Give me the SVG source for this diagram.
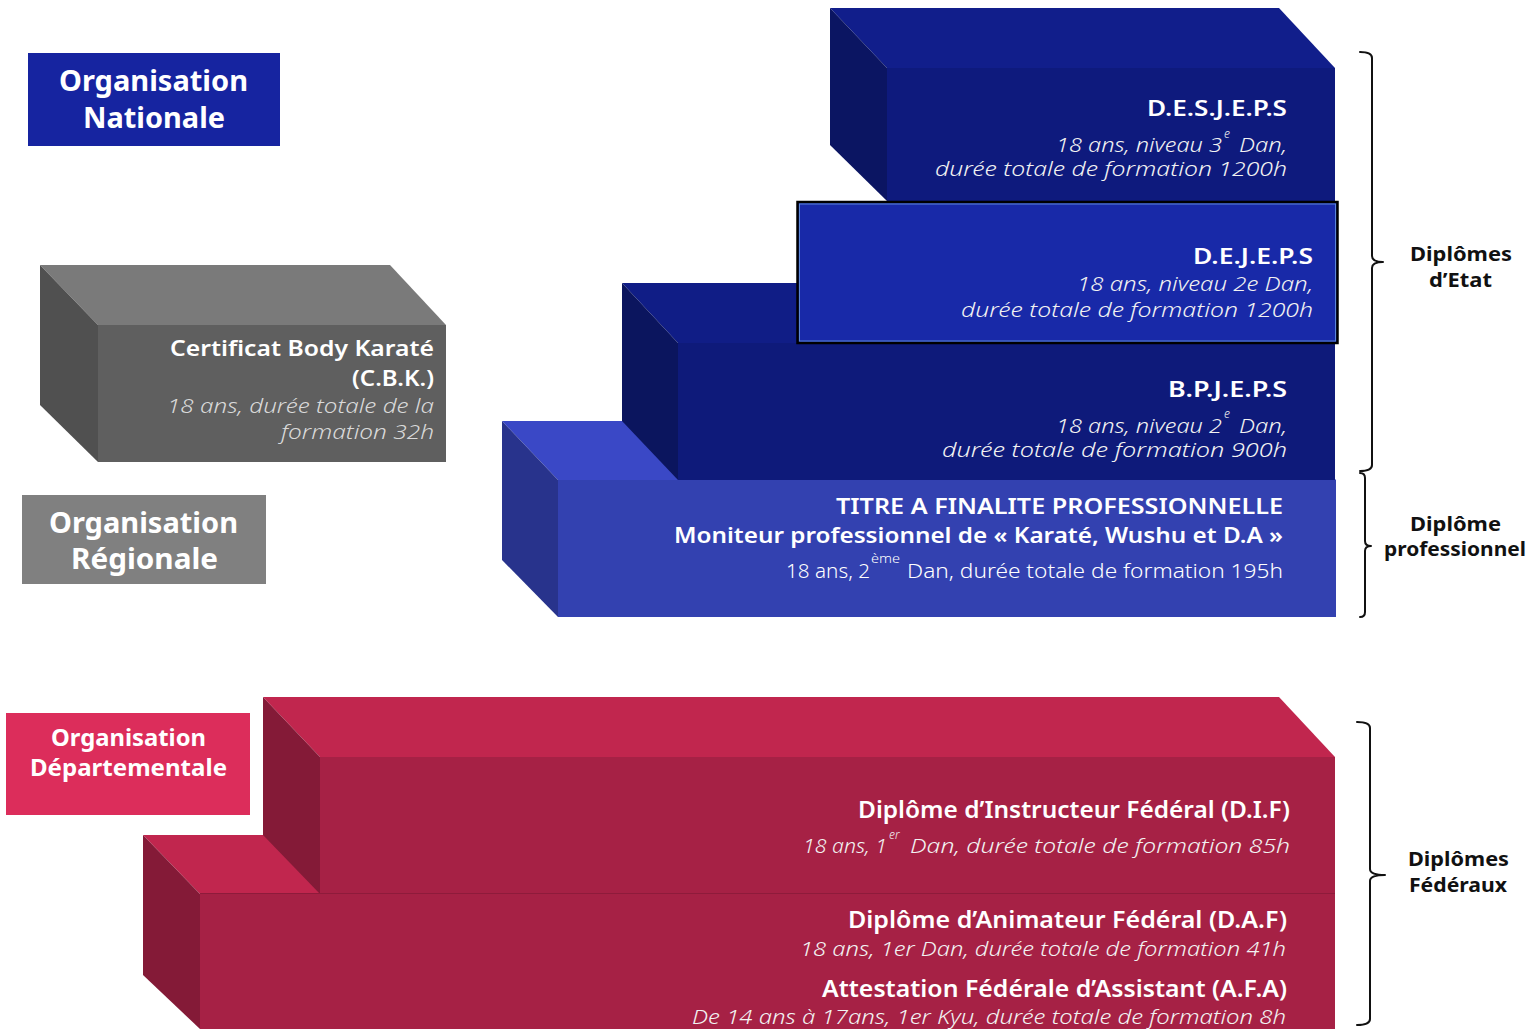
<svg xmlns="http://www.w3.org/2000/svg" width="1533" height="1029" viewBox="0 0 1533 1029">
<style>
text{font-family:"Noto Sans","Open Sans",sans-serif;}
.b{font-weight:600;fill:#fff;font-size:22px;}
.i{font-style:italic;font-weight:300;fill:#f2f2f2;font-size:20px;}
.r{font-weight:300;fill:#fff;font-size:20px;}
.sup{font-size:12px;}
.lab{font-weight:700;fill:#fff;font-size:29px;}
.side{font-weight:700;fill:#111;font-size:19px;}
.brace{fill:none;stroke:#111;stroke-width:2;stroke-linejoin:round;stroke-linecap:round;}
</style>
<rect width="1533" height="1029" fill="#fff"/>

<g id="label-nationale">
<rect x="28" y="53" width="252" height="93" fill="#1624A0"/>
<text class="lab" x="59" y="91" textLength="189" lengthAdjust="spacingAndGlyphs">Organisation</text>
<text class="lab" x="83" y="128" textLength="142" lengthAdjust="spacingAndGlyphs">Nationale</text>
</g>

<g id="label-regionale">
<rect x="22" y="495" width="244" height="89" fill="#808080"/>
<text class="lab" x="49" y="533" textLength="189" lengthAdjust="spacingAndGlyphs">Organisation</text>
<text class="lab" x="71" y="569" textLength="147" lengthAdjust="spacingAndGlyphs">Régionale</text>
</g>

<g id="label-departementale">
<rect x="6" y="713" width="244" height="102" fill="#DC2D5B"/>
<text class="lab" style="font-size:24px" x="51" y="746" textLength="155" lengthAdjust="spacingAndGlyphs">Organisation</text>
<text class="lab" style="font-size:24px" x="30" y="776" textLength="197" lengthAdjust="spacingAndGlyphs">Départementale</text>
</g>

<g id="cbk">
<polygon points="40,265 390,265 446,325 98,325" fill="#7A7A7A"/>
<polygon points="40,265 98,325 98,462 40,405" fill="#505050"/>
<rect x="98" y="325" width="348" height="137" fill="#5F5F5F"/>
<text class="b" x="170" y="356" textLength="264" lengthAdjust="spacingAndGlyphs">Certificat Body Karaté</text>
<text class="b" x="352" y="386" textLength="82" lengthAdjust="spacingAndGlyphs">(C.B.K.)</text>
<text class="i" style="fill:#d9d9d9" x="167" y="413" textLength="267" lengthAdjust="spacingAndGlyphs">18 ans, durée totale de la</text>
<text class="i" style="fill:#d9d9d9" x="281" y="439" textLength="153" lengthAdjust="spacingAndGlyphs">formation 32h</text>
</g>

<g id="titre-pro">
<polygon points="502,421 1279,421 1336,480 558,480" fill="#3A48C6"/>
<polygon points="502,421 558,480 558,617 502,560" fill="#28338C"/>
<rect x="558" y="480" width="778" height="137" fill="#3341B0"/>
<text class="b" x="836" y="514" textLength="447" lengthAdjust="spacingAndGlyphs">TITRE A FINALITE PROFESSIONNELLE</text>
<text class="b" x="674" y="543" textLength="609" lengthAdjust="spacingAndGlyphs">Moniteur professionnel de « Karaté, Wushu et D.A »</text>
<text class="r"><tspan x="786" y="578" textLength="84" lengthAdjust="spacingAndGlyphs">18 ans, 2</tspan><tspan class="sup" x="871" y="563" textLength="29" lengthAdjust="spacingAndGlyphs">ème</tspan><tspan x="907" y="578" textLength="376" lengthAdjust="spacingAndGlyphs">Dan, durée totale de formation 195h</tspan></text>
</g>

<g id="bpjeps">
<polygon points="622,283 1279,283 1335,343 678,343" fill="#101D86"/>
<polygon points="622,283 678,343 678,480 622,421" fill="#0B155E"/>
<rect x="678" y="343" width="657" height="137" fill="#0E1A7A"/>
<text class="b" x="1168" y="397" textLength="119" lengthAdjust="spacingAndGlyphs">B.P.J.E.P.S</text>
<text class="i"><tspan x="1056" y="433" textLength="166" lengthAdjust="spacingAndGlyphs">18 ans, niveau 2</tspan><tspan class="sup" x="1224" y="418">e</tspan><tspan x="1239" y="433" textLength="48" lengthAdjust="spacingAndGlyphs">Dan,</tspan></text>
<text class="i" x="942" y="457" textLength="345" lengthAdjust="spacingAndGlyphs">durée totale de formation 900h</text>
</g>

<g id="desjeps">
<polygon points="830,8 1279,8 1335,68 887,68" fill="#111E8B"/>
<polygon points="830,8 887,68 887,201 830,145" fill="#0B1562"/>
<rect x="887" y="68" width="448" height="133" fill="#0E1A7D"/>
<text class="b" x="1147" y="116" textLength="140" lengthAdjust="spacingAndGlyphs">D.E.S.J.E.P.S</text>
<text class="i"><tspan x="1056" y="152" textLength="166" lengthAdjust="spacingAndGlyphs">18 ans, niveau 3</tspan><tspan class="sup" x="1224" y="138">e</tspan><tspan x="1239" y="152" textLength="48" lengthAdjust="spacingAndGlyphs">Dan,</tspan></text>
<text class="i" x="935" y="176" textLength="352" lengthAdjust="spacingAndGlyphs">durée totale de formation 1200h</text>
</g>

<g id="dejeps">
<rect x="797.5" y="202" width="540" height="141" fill="#1829A8" stroke="#000" stroke-width="2.5"/>
<rect x="799.5" y="204" width="536" height="137" fill="none" stroke="#5B86D8" stroke-width="1"/>
<text class="b" x="1193" y="264" textLength="120" lengthAdjust="spacingAndGlyphs">D.E.J.E.P.S</text>
<text class="i" x="1077" y="291" textLength="236" lengthAdjust="spacingAndGlyphs">18 ans, niveau 2e Dan,</text>
<text class="i" x="961" y="317" textLength="352" lengthAdjust="spacingAndGlyphs">durée totale de formation 1200h</text>
</g>

<g id="daf-afa">
<polygon points="143,835 1279,835 1335,894 200,894" fill="#C1264E"/>
<polygon points="143,835 200,894 200,1029 143,975" fill="#841A37"/>
<rect x="200" y="894" width="1135" height="135" fill="#A62145"/>
<text class="b" style="font-size:24px" x="848" y="928" textLength="439" lengthAdjust="spacingAndGlyphs">Diplôme d’Animateur Fédéral (D.A.F)</text>
<text class="i" x="800" y="956" textLength="486" lengthAdjust="spacingAndGlyphs">18 ans, 1er Dan, durée totale de formation 41h</text>
<text class="b" style="font-size:24px" x="822" y="997" textLength="465" lengthAdjust="spacingAndGlyphs">Attestation Fédérale d’Assistant (A.F.A)</text>
<text class="i" x="692" y="1024" textLength="594" lengthAdjust="spacingAndGlyphs">De 14 ans à 17ans, 1er Kyu, durée totale de formation 8h</text>
</g>

<g id="dif">
<polygon points="263,697 1279,697 1335,757 320,757" fill="#C1264E"/>
<polygon points="263,697 320,757 320,894 263,835" fill="#841A37"/>
<rect x="320" y="757" width="1015" height="136" fill="#A62145"/>
<line x1="200" y1="893.5" x2="1335" y2="893.5" stroke="#8E1B3B" stroke-width="1"/>
<text class="b" style="font-size:24px" x="858" y="818" textLength="432" lengthAdjust="spacingAndGlyphs">Diplôme d’Instructeur Fédéral (D.I.F)</text>
<text class="i"><tspan x="803" y="853" textLength="84" lengthAdjust="spacingAndGlyphs">18 ans, 1</tspan><tspan class="sup" x="889" y="839">er</tspan><tspan x="910" y="853" textLength="380" lengthAdjust="spacingAndGlyphs">Dan, durée totale de formation 85h</tspan></text>
</g>

<g id="connectors">
<path class="brace" d="M1360,52 Q1372,52 1372,58 L1372,256 Q1372,262 1383,262 Q1372,262 1372,268 L1372,465 Q1372,471 1360,471"/>
<path class="brace" d="M1360,473 Q1365,473 1365,478 L1365,541 Q1365,546 1371,546 Q1365,546 1365,551 L1365,612 Q1365,617 1360,617"/>
<path class="brace" d="M1357,722 Q1370,722 1370,728 L1370,869 Q1370,875 1385,875 Q1370,875 1370,881 L1370,1019 Q1370,1025 1357,1025"/>
</g>

<g id="side-labels">
<text class="side" x="1410" y="261" textLength="102" lengthAdjust="spacingAndGlyphs">Diplômes</text>
<text class="side" x="1429" y="287" textLength="63" lengthAdjust="spacingAndGlyphs">d’Etat</text>
<text class="side" x="1410" y="531" textLength="91" lengthAdjust="spacingAndGlyphs">Diplôme</text>
<text class="side" x="1384" y="556" textLength="142" lengthAdjust="spacingAndGlyphs">professionnel</text>
<text class="side" x="1408" y="866" textLength="101" lengthAdjust="spacingAndGlyphs">Diplômes</text>
<text class="side" x="1409" y="892" textLength="98" lengthAdjust="spacingAndGlyphs">Fédéraux</text>
</g>
</svg>
